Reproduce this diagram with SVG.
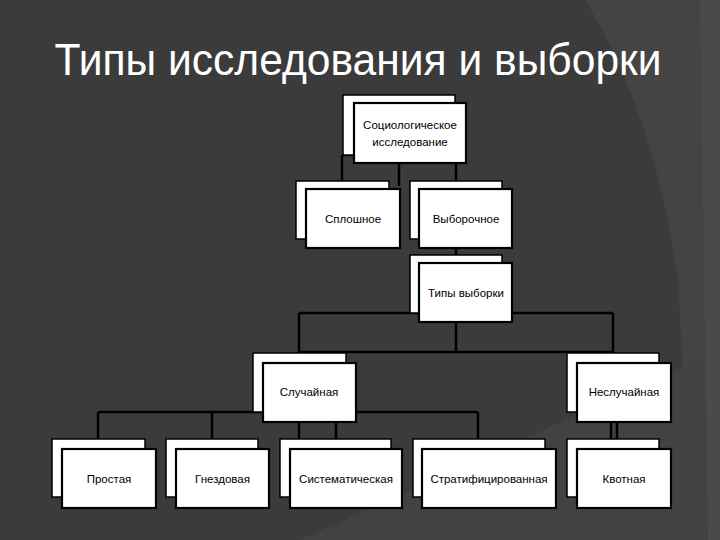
<svg xmlns="http://www.w3.org/2000/svg" width="720" height="540" viewBox="0 0 720 540">
  <style>
    .bk { fill: #ffffff; stroke: #000000; stroke-width: 1.5; }
    .fr { fill: #ffffff; stroke: #000000; stroke-width: 2.2; }
    .lbl { font-family: "Liberation Sans", Arial, sans-serif; font-size: 11.5px; fill: #000000; text-anchor: middle; }
    .ln { fill: none; stroke: #000000; stroke-width: 2.5; }
  </style>
  <rect x="0" y="0" width="720" height="540" fill="#3b3b3b"/>
  <path d="M585,0 C622,60 660,150 678,280 L692,540 L720,540 L720,0 Z" fill="#444444"/>
  <path d="M300,540 L720,350 L720,540 Z" fill="#424242"/>
  <path d="M700,0 L720,0 L720,540 L708,540 Z" fill="#4a4a4a"/>
  <text x="358" y="75" font-family="Liberation Sans, Arial, sans-serif" font-size="44" fill="#ffffff" text-anchor="middle" textLength="607" lengthAdjust="spacingAndGlyphs">Типы исследования и выборки</text>

  <g id="connectors">
    <path class="ln" d="M342,155 H456 M342,155 V182 M456,155 V182 M399,163 V186"/>
    <path class="ln" d="M456,239 V256"/>
    <path class="ln" d="M299,313 H613 M299,313 V354 M613,313 V354 M456,322 V352 M300,352 H613"/>
    <path class="ln" d="M98,412 H478 M98,412 V440 M212,412 V440 M336,412 V440 M478,412 V440 M299,421 V440"/>
    <path class="ln" d="M611,421 V440 M617,421 V449"/>
  </g>

  <g id="n-socio">
    <rect class="bk" x="343" y="95" width="112" height="60"/>
    <rect class="fr" x="354" y="103" width="112" height="60"/>
    <text class="lbl" x="410" y="129">Социологическое</text>
    <text class="lbl" x="410" y="146">исследование</text>
  </g>
  <g id="n-sploshnoe">
    <rect class="bk" x="296" y="181" width="93" height="58"/>
    <rect class="fr" x="306" y="189" width="94" height="59"/>
    <text class="lbl" x="353" y="223">Сплошное</text>
  </g>
  <g id="n-vyborochnoe">
    <rect class="bk" x="410" y="181" width="92" height="58"/>
    <rect class="fr" x="419" y="189" width="93" height="59"/>
    <text class="lbl" x="466" y="223">Выборочное</text>
  </g>
  <g id="n-tipy">
    <rect class="bk" x="410" y="255" width="92" height="58"/>
    <rect class="fr" x="419" y="263" width="93" height="59"/>
    <text class="lbl" x="466" y="297">Типы выборки</text>
  </g>
  <g id="n-sluchainaya">
    <rect class="bk" x="253" y="353" width="93" height="59"/>
    <rect class="fr" x="263" y="363" width="93" height="59"/>
    <text class="lbl" x="309" y="396">Случайная</text>
  </g>
  <g id="n-nesluchainaya">
    <rect class="bk" x="567" y="353" width="92" height="59"/>
    <rect class="fr" x="577" y="363" width="94" height="59"/>
    <text class="lbl" x="624" y="396">Неслучайная</text>
  </g>
  <g id="n-prostaya">
    <rect class="bk" x="52" y="439" width="93" height="58"/>
    <rect class="fr" x="62" y="449" width="94" height="59"/>
    <text class="lbl" x="109" y="483">Простая</text>
  </g>
  <g id="n-gnezdovaya">
    <rect class="bk" x="166" y="439" width="92" height="58"/>
    <rect class="fr" x="176" y="449" width="93" height="59"/>
    <text class="lbl" x="222.5" y="483">Гнездовая</text>
  </g>
  <g id="n-sistem">
    <rect class="bk" x="280" y="439" width="111" height="58"/>
    <rect class="fr" x="290" y="449" width="112" height="59"/>
    <text class="lbl" x="346" y="483">Систематическая</text>
  </g>
  <g id="n-strat">
    <rect class="bk" x="413" y="439" width="132" height="58"/>
    <rect class="fr" x="422" y="449" width="134" height="59"/>
    <text class="lbl" x="489" y="483">Стратифицированная</text>
  </g>
  <g id="n-kvotnaya">
    <rect class="bk" x="567" y="439" width="92" height="58"/>
    <rect class="fr" x="577" y="449" width="94" height="59"/>
    <text class="lbl" x="624" y="483">Квотная</text>
  </g>
</svg>
